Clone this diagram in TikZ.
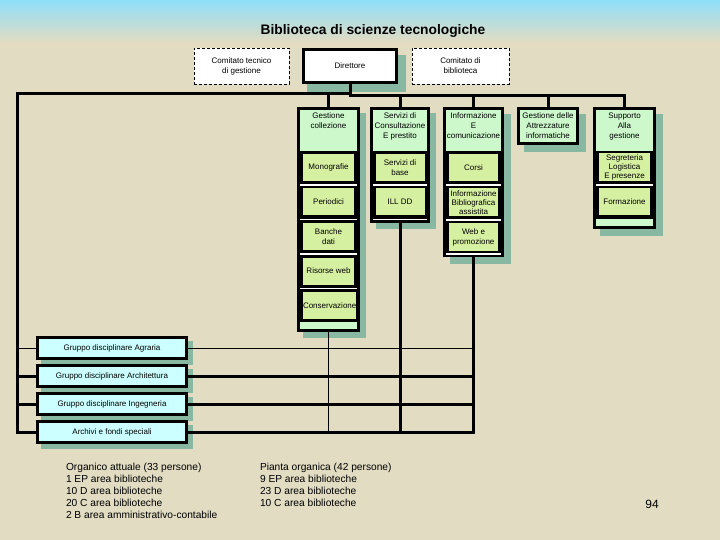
\documentclass[tikz,border=0pt]{standalone}
\usepackage{fontspec}
\setmainfont{Liberation Sans}
\definecolor{bgc}{HTML}{E2DCC3}
\definecolor{skyc}{HTML}{8EDEF8}
\definecolor{shadc}{HTML}{88B8A2}
\definecolor{hdrc}{HTML}{CCF8CC}
\definecolor{subc}{HTML}{D6F0A2}
\definecolor{cyanc}{HTML}{CCFFFF}
\begin{document}
\begin{tikzpicture}[x=1pt,y=-1pt,
  every node/.style={inner sep=0pt, outer sep=0pt, align=center, font=\fontsize{8}{10}\selectfont},
  shadowbox/.style={fill=shadc, anchor=north west},
  frame/.style={fill=black, anchor=north west},
  hdrbox/.style={fill=hdrc, anchor=north west},
  subbox/.style={fill=subc, anchor=north west, minimum height=27pt},
  tight/.style={font=\fontsize{8}{9.3}\selectfont},
  sep/.style={draw=white, line width=1.2pt},
  bus/.style={draw=black, line width=3pt},
  thinl/.style={draw=black, line width=1pt},
  dashbox/.style={draw=black, line width=0.8pt, dash pattern=on 3pt off 2pt, fill=white, anchor=north west},
  boldbox/.style={draw=black, line width=3pt, anchor=north west},
  cyanbox/.style={boldbox, fill=cyanc, minimum width=149pt, minimum height=21pt, font=\fontsize{8}{9}\selectfont},
  cyanshadow/.style={shadowbox, minimum width=152pt, minimum height=24pt},
  hdrtxt/.style={anchor=north},
  bottomtxt/.style={anchor=north west, font=\fontsize{10.2}{12}\selectfont, align=left},
]
% background
\fill[bgc] (0,0) rectangle (720,540);
\shade[top color=skyc, bottom color=bgc] (0,0) rectangle (720,42);
\useasboundingbox (0,0) rectangle (720,540);

% title
\node[font=\fontsize{13.8}{15}\selectfont\bfseries] (title) at (373,31) {Biblioteca di scienze tecnologiche};

% top boxes
\node[dashbox, minimum width=95pt, minimum height=36pt] (ctg) at (194,48) {Comitato tecnico\\di gestione};
\node[shadowbox, minimum width=99pt, minimum height=37pt] (dirs) at (307,55) {};
\node[boldbox, fill=white, minimum width=93pt, minimum height=33pt] (dir) at (303.5,49.5) {Direttore};
\node[dashbox, minimum width=97pt, minimum height=36pt] (cb) at (412,48) {Comitato di\\biblioteca};

% ---- shadows of columns
\node[shadowbox, minimum width=63pt, minimum height=225pt] (c1s) at (303,113) {};
\node[shadowbox, minimum width=60pt, minimum height=116pt] (c2s) at (376,113) {};
\node[shadowbox, minimum width=61pt, minimum height=150pt] (c3s) at (450,114) {};
\node[shadowbox, minimum width=62pt, minimum height=38pt] (c4s) at (524,114) {};
\node[shadowbox, minimum width=63pt, minimum height=122pt] (c5s) at (600,114) {};

% ---- cyan shadows
\node[cyanshadow] (agrs) at (41,341) {};
\node[cyanshadow] (archs) at (41,369) {};
\node[cyanshadow] (ings) at (41,397) {};
\node[cyanshadow] (arcs) at (41,425) {};

% ---- column 1
\node[frame, minimum width=63pt, minimum height=225pt] (c1) at (297,107) {};
\node[hdrbox, minimum width=57pt, minimum height=41pt] (c1h) at (300,110) {};
\node[hdrtxt] (c1t) at ([yshift=-3pt]c1h.north) {Gestione\\collezione};
\node[subbox, minimum width=51pt] (mono) at (303,154) {Monografie};
\node[subbox, minimum width=51pt] (peri) at (303,188.5) {Periodici};
\node[subbox, minimum width=51pt] (banc) at (303,223) {Banche\\dati};
\node[subbox, minimum width=51pt] (riso) at (303,257.5) {Risorse web};
\node[subbox, minimum width=51pt] (cons) at (303,292) {Conservazione};
\node[hdrbox, minimum width=57pt, minimum height=7pt] (c1b) at (300,322) {};
\foreach \yy in {185,219.5,254,288.5} \draw[sep] (300,\yy) -- (357,\yy);

% ---- column 2
\node[frame, minimum width=60pt, minimum height=116pt] (c2) at (370,107) {};
\node[hdrbox, minimum width=54pt, minimum height=41pt] (c2h) at (373,110) {};
\node[hdrtxt] (c2t) at ([yshift=-3pt]c2h.north) {Servizi di\\Consultazione\\E prestito};
\node[subbox, minimum width=49pt] (sbase) at (375.5,154) {Servizi di\\base};
\node[subbox, minimum width=49pt] (ill) at (375.5,188.5) {ILL DD};
\foreach \yy in {185,219.5} \draw[sep] (373,\yy) -- (427,\yy);

% ---- column 3
\node[frame, minimum width=61pt, minimum height=150pt] (c3) at (443,107) {};
\node[hdrbox, minimum width=55pt, minimum height=41pt] (c3h) at (446,110) {};
\node[hdrtxt] (c3t) at ([yshift=-3pt]c3h.north) {Informazione\\E\\comunicazione};
\node[subbox, minimum width=49pt] (corsi) at (449,154) {Corsi};
\node[subbox, minimum width=49pt, minimum height=28pt, tight] (ibib) at (449,188.5) {Informazione\\Bibliografica\\assistita};
\node[subbox, minimum width=49pt, minimum height=28pt] (web) at (449,223) {Web e\\promozione};
\foreach \yy in {185,220,254} \draw[sep] (446,\yy) -- (501,\yy);

% ---- column 4
\node[boldbox, fill=hdrc, minimum width=59pt, minimum height=35pt] (c4) at (518.5,108.5) {Gestione delle\\Attrezzature\\informatiche};

% ---- column 5
\node[frame, minimum width=63pt, minimum height=122pt] (c5) at (593,107) {};
\node[hdrbox, minimum width=57pt, minimum height=41pt] (c5h) at (596,110) {};
\node[hdrtxt] (c5t) at ([yshift=-3pt]c5h.north) {Supporto\\Alla\\gestione};
\node[subbox, minimum width=51pt, minimum height=28.5pt, tight] (segr) at (599,153) {Segreteria\\Logistica\\E presenze};
\node[subbox, minimum width=51pt] (form) at (599,188.5) {Formazione};
\node[hdrbox, minimum width=57pt, minimum height=7pt] (c5b) at (596,219) {};
\draw[sep] (596,185) -- (653,185);

% ---- connectors (top bus)
\coordinate (jL) at (17,94);
\coordinate (jM) at (350,96);
\draw[bus] (dir.south) -- (jM) -- (jM -| c5.north) -- (c5.north);
\draw[bus] (c2.north) -- (c2.north |- jM);
\draw[bus] (c3.north) -- (c3.north |- jM);
\draw[bus] (c4.north) -- (c4.north |- jM);
\draw[bus] (c1.north) -- (c1.north |- jL);

% ---- cyan boxes
\node[cyanbox] (agr) at (37.5,337.5) {Gruppo disciplinare Agraria};
\node[cyanbox] (arch) at (37.5,365.5) {Gruppo disciplinare Architettura};
\node[cyanbox] (ing) at (37.5,393.5) {Gruppo disciplinare Ingegneria};
\node[cyanbox] (arc) at (37.5,421.5) {Archivi e fondi speciali};

% left bus and horizontal lines
\draw[bus, line join=miter] (jL -| dir.south) -- (jL) -- (jL |- arc.west) -- ([xshift=-1.5pt]arc.west);
\draw[bus] (arch.west -| jL) -- ([xshift=-1.5pt]arch.west);
\draw[bus] (ing.west -| jL) -- ([xshift=-1.5pt]ing.west);
\draw[thinl] (agr.west -| jL) -- ([xshift=-1.5pt]agr.west);
\draw[thinl] ([xshift=1.5pt]agr.east) -- (agr.east -| c3.south);
\draw[bus] ([xshift=1.5pt]arch.east) -- (arch.east -| c3.south);
\draw[bus] ([xshift=1.5pt]ing.east) -- (ing.east -| c3.south);
\draw[bus, line join=miter] ([xshift=1.5pt]arc.east) -- (arc.east -| c3.south) -- (c3.south);
\draw[thinl] (c1.south) -- (c1.south |- arc.east);
\draw[bus] (c2.south) -- (c2.south |- arc.east);

% bottom text
\node[bottomtxt] (org) at (66,463) {Organico attuale (33 persone)\\1 EP area biblioteche\\10 D area biblioteche\\20 C area biblioteche\\2 B area amministrativo-contabile};
\node[bottomtxt] (pia) at (260,463) {Pianta organica (42 persone)\\9 EP area biblioteche\\23 D area biblioteche\\10 C area biblioteche};
\node[font=\fontsize{12}{14}\selectfont] (pg) at (652,504) {94};
\end{tikzpicture}
\end{document}
